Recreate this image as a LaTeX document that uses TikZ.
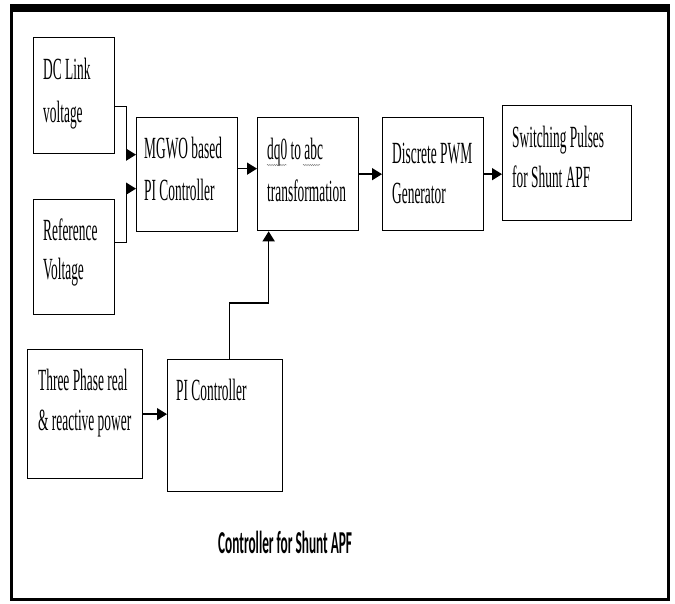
\documentclass[tikz,border=0pt]{standalone}
\usepackage{graphicx}
\usepackage{fontspec}
\setmainfont{Liberation Serif}
\newfontfamily\carlito{Carlito}
\usetikzlibrary{arrows.meta,decorations.pathmorphing}
\newcommand\twol[3]{\scalebox{1}[2.3]{\fontsize{13.4}{16}\selectfont\begin{tabular}[t]{@{}l@{}}#2\\[#1]#3\end{tabular}}}
\newcommand\onel[1]{\scalebox{1}[2.3]{\fontsize{13.4}{16}\selectfont #1}}
\begin{document}
\begin{tikzpicture}[x=1pt,y=-1pt,
  blk/.style={draw, line width=1.3pt, rectangle, anchor=north west, inner sep=0pt},
  txt/.style={anchor=base west, inner sep=0pt},
  arr/.style={line width=1.5pt, -{Triangle[length=10pt,width=12pt]}},
  squig/.style={gray, line width=0.4pt, decorate, decoration={snake, amplitude=0.7pt, segment length=2.2pt}}
]
\useasboundingbox (0,0) rectangle (675,603);
% outer frame
\draw[line width=3pt] (11.5,8) -- (11.5,599.5) -- (668.7,599.5) -- (668.7,8);
\draw[line width=8pt] (10,8) -- (670.2,8);

% boxes
\node[blk, minimum width=81pt, minimum height=116pt] (dc) at (33,37) {};
\node[blk, minimum width=81pt, minimum height=115pt] (ref) at (33,199) {};
\node[blk, minimum width=101pt, minimum height=114pt] (mg) at (136,117) {};
\node[blk, minimum width=101pt, minimum height=113pt] (dq) at (257,117) {};
\node[blk, minimum width=101pt, minimum height=113pt] (pwm) at (382,117) {};
\node[blk, minimum width=129pt, minimum height=115pt] (sw) at (502,105) {};
\node[blk, minimum width=115pt, minimum height=129pt] (tp) at (27,349) {};
\node[blk, minimum width=115pt, minimum height=132pt] (pi) at (167,359) {};

% texts
\node[txt] (dct) at (43,79) {\twol{3.1pt}{DC Link}{voltage}};
\node[txt] (reft) at (43,240) {\twol{1pt}{Reference}{Voltage}};
\node[txt] (mgt) at (144,158) {\twol{2.3pt}{MGWO based}{PI Controller}};
\node[txt] (dqt) at (267,159) {\twol{2.3pt}{dq0 to abc}{transformation}};
\node[txt] (pwmt) at (392,163) {\twol{1.4pt}{Discrete PWM}{Generator}};
\node[txt] (swt) at (512,147) {\twol{1.8pt}{Switching Pulses}{for Shunt APF}};
\node[txt] (tpt) at (38,390) {\twol{1.4pt}{Three Phase real}{\& reactive power}};
\node[txt] (pit) at (176,400) {\onel{PI Controller}};
\node[txt] (title) at (218,553) {\scalebox{1}[2.4]{\carlito\bfseries\fontsize{13.3}{16}\selectfont Controller for Shunt APF}};

% spell-check squiggles
\draw[squig] (267,165) -- (287,165);
\draw[squig] (303,165) -- (320,165);

% connectors
\draw[arr] ([yshift=-11pt]dc.east) -- ++(11,0) |- ([yshift=20pt]mg.west);
\draw[arr] ([yshift=14.5pt]ref.east) -- ++(11,0) |- ([yshift=-14pt]mg.west);
\draw[arr] ([yshift=6pt]mg.east) -- ([yshift=6pt]mg.east -| dq.west);
\draw[arr] (dq.east) -- (dq.east -| pwm.west);
\draw[arr] (pwm.east) -- (pwm.east -| sw.west);
\draw[arr] (tp.east) -- (tp.east -| pi.west);
\draw[arr] ([xshift=4.5pt]pi.north) -- ++(0,-56) -| ([xshift=-39.5pt]dq.south);
\end{tikzpicture}
\end{document}
